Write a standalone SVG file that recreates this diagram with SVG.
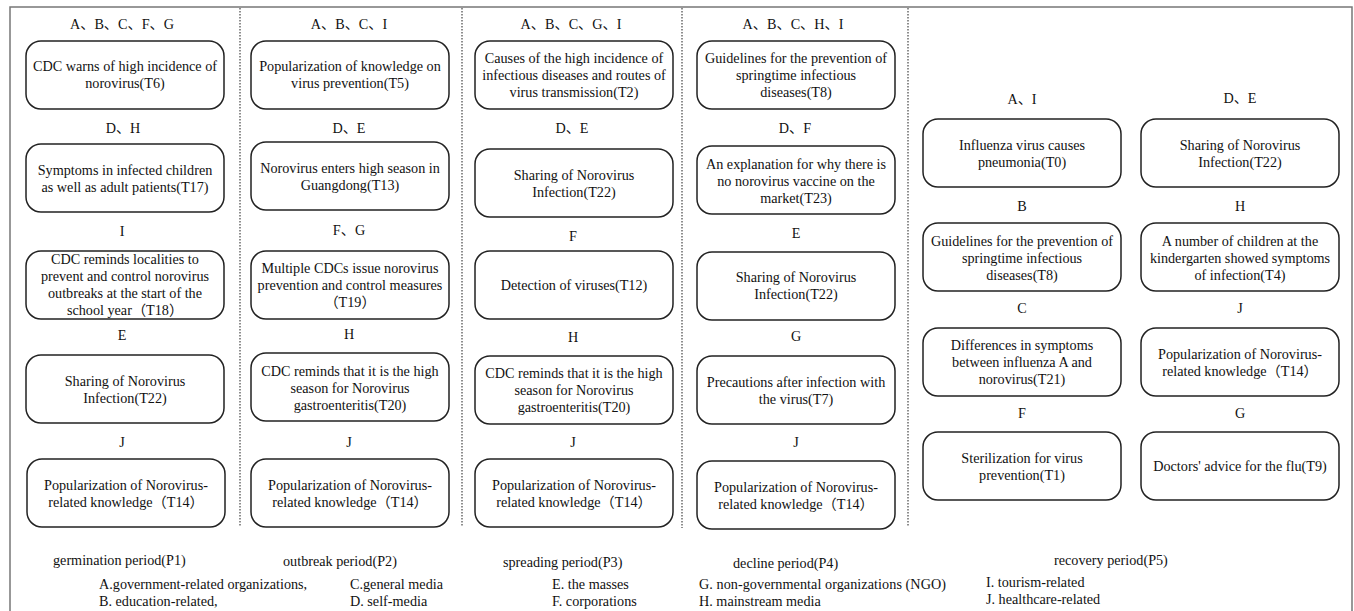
<svg xmlns="http://www.w3.org/2000/svg" width="1354" height="611" viewBox="0 0 1354 611">
  <style>
    text { font-family: "Liberation Serif", "Noto Sans CJK SC", serif; font-size: 14.2px; fill: #111; }
    .box { fill: #fff; stroke: #222; stroke-width: 1.5; }
    .t { text-anchor: middle; }
    .lbl { text-anchor: middle; }
    .period { font-size: 14.2px; }
    .legend { font-size: 14.2px; }
    .frame { fill: none; stroke: #777; stroke-width: 1.5; }
    .divider { stroke: #444; stroke-width: 1.2; stroke-dasharray: 1.5 1.5; }
  </style>
  <defs>
    <rect id="topic" class="box" width="198" height="68" rx="15" ry="15"/>
  </defs>

  <rect width="1354" height="611" fill="#fff"/>

  <!-- frame and period dividers -->
  <g id="frame">
    <path class="frame" d="M10,611 V7 H1352 V611"/>
    <line class="divider" x1="240" y1="8" x2="240" y2="527"/>
    <line class="divider" x1="462" y1="8" x2="462" y2="527"/>
    <line class="divider" x1="682" y1="8" x2="682" y2="528"/>
    <line class="divider" x1="908" y1="8" x2="908" y2="527"/>
  </g>

  <g id="connectors"></g>

  <!-- P1: germination period -->
  <g id="p1">
    <text class="lbl" x="122" y="29">A、B、C、F、G</text>
    <g id="p1-t6">
      <use href="#topic" x="26" y="41"/>
      <text class="t"><tspan x="125" y="71">CDC warns of high incidence of</tspan><tspan x="125" y="88">norovirus(T6)</tspan></text>
    </g>
    <text class="lbl" x="123" y="133">D、H</text>
    <g id="p1-t17">
      <use href="#topic" x="26" y="144"/>
      <text class="t"><tspan x="125" y="174.5">Symptoms in infected children</tspan><tspan x="125" y="191.5">as well as adult patients(T17)</tspan></text>
    </g>
    <text class="lbl" x="122" y="236">I</text>
    <g id="p1-t18">
      <use href="#topic" x="26" y="251"/>
      <text class="t"><tspan x="125" y="264">CDC reminds localities to</tspan><tspan x="125" y="281">prevent and control norovirus</tspan><tspan x="125" y="298">outbreaks at the start of the</tspan><tspan x="125" y="315">school year（T18）</tspan></text>
    </g>
    <text class="lbl" x="122" y="340">E</text>
    <g id="p1-t22">
      <use href="#topic" x="26" y="355"/>
      <text class="t"><tspan x="125" y="385.5">Sharing of Norovirus</tspan><tspan x="125" y="402.5">Infection(T22)</tspan></text>
    </g>
    <text class="lbl" x="122" y="447">J</text>
    <g id="p1-t14">
      <use href="#topic" x="27" y="459"/>
      <text class="t"><tspan x="126" y="489.5">Popularization of Norovirus-</tspan><tspan x="126" y="506.5">related knowledge（T14）</tspan></text>
    </g>
  </g>

  <!-- P2: outbreak period -->
  <g id="p2">
    <text class="lbl" x="349" y="29">A、B、C、I</text>
    <g id="p2-t5">
      <use href="#topic" x="251" y="41"/>
      <text class="t"><tspan x="350" y="71">Popularization of knowledge on</tspan><tspan x="350" y="88">virus prevention(T5)</tspan></text>
    </g>
    <text class="lbl" x="349" y="133">D、E</text>
    <g id="p2-t13">
      <use href="#topic" x="251" y="142"/>
      <text class="t"><tspan x="350" y="172.5">Norovirus enters high season in</tspan><tspan x="350" y="189.5">Guangdong(T13)</tspan></text>
    </g>
    <text class="lbl" x="349" y="235">F、G</text>
    <g id="p2-t19">
      <use href="#topic" x="251" y="251"/>
      <text class="t"><tspan x="350" y="272.5">Multiple CDCs issue norovirus</tspan><tspan x="350" y="289.5">prevention and control measures</tspan><tspan x="350" y="306.5">（T19）</tspan></text>
    </g>
    <text class="lbl" x="349" y="339">H</text>
    <g id="p2-t20">
      <use href="#topic" x="251" y="353"/>
      <text class="t"><tspan x="350" y="375.5">CDC reminds that it is the high</tspan><tspan x="350" y="392.5">season for Norovirus</tspan><tspan x="350" y="409.5">gastroenteritis(T20)</tspan></text>
    </g>
    <text class="lbl" x="349" y="447">J</text>
    <g id="p2-t14">
      <use href="#topic" x="251" y="459"/>
      <text class="t"><tspan x="350" y="489.5">Popularization of Norovirus-</tspan><tspan x="350" y="506.5">related knowledge（T14）</tspan></text>
    </g>
  </g>

  <!-- P3: spreading period -->
  <g id="p3">
    <text class="lbl" x="571" y="29">A、B、C、G、I</text>
    <g id="p3-t2">
      <use href="#topic" x="475" y="41"/>
      <text class="t"><tspan x="574" y="62.5">Causes of the high incidence of</tspan><tspan x="574" y="79.5">infectious diseases and routes of</tspan><tspan x="574" y="96.5">virus transmission(T2)</tspan></text>
    </g>
    <text class="lbl" x="572" y="133">D、E</text>
    <g id="p3-t22">
      <use href="#topic" x="475" y="149"/>
      <text class="t"><tspan x="574" y="179.5">Sharing of Norovirus</tspan><tspan x="574" y="196.5">Infection(T22)</tspan></text>
    </g>
    <text class="lbl" x="573" y="241">F</text>
    <g id="p3-t12">
      <use href="#topic" x="475" y="251"/>
      <text class="t" x="574" y="290">Detection of viruses(T12)</text>
    </g>
    <text class="lbl" x="573" y="342">H</text>
    <g id="p3-t20">
      <use href="#topic" x="475" y="356"/>
      <text class="t"><tspan x="574" y="378">CDC reminds that it is the high</tspan><tspan x="574" y="395">season for Norovirus</tspan><tspan x="574" y="412">gastroenteritis(T20)</tspan></text>
    </g>
    <text class="lbl" x="573" y="447">J</text>
    <g id="p3-t14">
      <use href="#topic" x="475" y="459"/>
      <text class="t"><tspan x="574" y="490">Popularization of Norovirus-</tspan><tspan x="574" y="507">related knowledge（T14）</tspan></text>
    </g>
  </g>

  <!-- P4: decline period -->
  <g id="p4">
    <text class="lbl" x="793" y="29">A、B、C、H、I</text>
    <g id="p4-t8">
      <use href="#topic" x="697" y="41"/>
      <text class="t"><tspan x="796" y="62.5">Guidelines for the prevention of</tspan><tspan x="796" y="79.5">springtime infectious</tspan><tspan x="796" y="96.5">diseases(T8)</tspan></text>
    </g>
    <text class="lbl" x="795" y="133">D、F</text>
    <g id="p4-t23">
      <use href="#topic" x="697" y="146"/>
      <text class="t"><tspan x="796" y="168.5">An explanation for why there is</tspan><tspan x="796" y="185.5">no norovirus vaccine on the</tspan><tspan x="796" y="202.5">market(T23)</tspan></text>
    </g>
    <text class="lbl" x="796" y="238">E</text>
    <g id="p4-t22">
      <use href="#topic" x="697" y="252"/>
      <text class="t"><tspan x="796" y="282">Sharing of Norovirus</tspan><tspan x="796" y="299">Infection(T22)</tspan></text>
    </g>
    <text class="lbl" x="796" y="341">G</text>
    <g id="p4-t7">
      <use href="#topic" x="697" y="356"/>
      <text class="t"><tspan x="796" y="386.5">Precautions after infection with</tspan><tspan x="796" y="403.5">the virus(T7)</tspan></text>
    </g>
    <text class="lbl" x="796" y="447">J</text>
    <g id="p4-t14">
      <use href="#topic" x="697" y="461"/>
      <text class="t"><tspan x="796" y="491.5">Popularization of Norovirus-</tspan><tspan x="796" y="508.5">related knowledge（T14）</tspan></text>
    </g>
  </g>

  <!-- P5: recovery period -->
  <g id="p5">
    <text class="lbl" x="1022" y="104">A、I</text>
    <g id="p5-t0">
      <use href="#topic" x="923" y="119"/>
      <text class="t"><tspan x="1022" y="149.5">Influenza virus causes</tspan><tspan x="1022" y="166.5">pneumonia(T0)</tspan></text>
    </g>
    <text class="lbl" x="1240" y="103">D、E</text>
    <g id="p5-t22">
      <use href="#topic" x="1141" y="119"/>
      <text class="t"><tspan x="1240" y="149.5">Sharing of Norovirus</tspan><tspan x="1240" y="166.5">Infection(T22)</tspan></text>
    </g>
    <text class="lbl" x="1022" y="211">B</text>
    <g id="p5-t8">
      <use href="#topic" x="923" y="223"/>
      <text class="t"><tspan x="1022" y="245.5">Guidelines for the prevention of</tspan><tspan x="1022" y="262.5">springtime infectious</tspan><tspan x="1022" y="279.5">diseases(T8)</tspan></text>
    </g>
    <text class="lbl" x="1240" y="211">H</text>
    <g id="p5-t4">
      <use href="#topic" x="1141" y="223"/>
      <text class="t"><tspan x="1240" y="245.5">A number of children at the</tspan><tspan x="1240" y="262.5">kindergarten showed symptoms</tspan><tspan x="1240" y="279.5">of infection(T4)</tspan></text>
    </g>
    <text class="lbl" x="1022" y="313">C</text>
    <g id="p5-t21">
      <use href="#topic" x="923" y="328"/>
      <text class="t"><tspan x="1022" y="350">Differences in symptoms</tspan><tspan x="1022" y="367">between influenza A and</tspan><tspan x="1022" y="384">norovirus(T21)</tspan></text>
    </g>
    <text class="lbl" x="1240" y="313">J</text>
    <g id="p5-t14">
      <use href="#topic" x="1141" y="328"/>
      <text class="t"><tspan x="1240" y="358.5">Popularization of Norovirus-</tspan><tspan x="1240" y="375.5">related knowledge（T14）</tspan></text>
    </g>
    <text class="lbl" x="1022" y="418">F</text>
    <g id="p5-t1">
      <use href="#topic" x="923" y="432"/>
      <text class="t"><tspan x="1022" y="462.5">Sterilization for virus</tspan><tspan x="1022" y="479.5">prevention(T1)</tspan></text>
    </g>
    <text class="lbl" x="1240" y="418">G</text>
    <g id="p5-t9">
      <use href="#topic" x="1141" y="432"/>
      <text class="t" x="1240" y="471">Doctors' advice for the flu(T9)</text>
    </g>
  </g>

  <!-- period names -->
  <g id="periods">
    <text class="period" x="53" y="565">germination period(P1)</text>
    <text class="period" x="283" y="566">outbreak period(P2)</text>
    <text class="period" x="503" y="567">spreading period(P3)</text>
    <text class="period" x="733" y="568">decline period(P4)</text>
    <text class="period" x="1054" y="565">recovery period(P5)</text>
  </g>

  <!-- actor legend -->
  <g id="legend">
    <text class="legend" x="99" y="589">A.government-related organizations,</text>
    <text class="legend" x="99" y="606">B. education-related,</text>
    <text class="legend" x="350" y="589">C.general media</text>
    <text class="legend" x="350" y="606">D. self-media</text>
    <text class="legend" x="552" y="589">E. the masses</text>
    <text class="legend" x="552" y="606">F. corporations</text>
    <text class="legend" x="699" y="589" textLength="247" lengthAdjust="spacing">G. non-governmental organizations (NGO)</text>
    <text class="legend" x="699" y="606">H. mainstream media</text>
    <text class="legend" x="986" y="587">I. tourism-related</text>
    <text class="legend" x="986" y="604">J. healthcare-related</text>
  </g>
</svg>
